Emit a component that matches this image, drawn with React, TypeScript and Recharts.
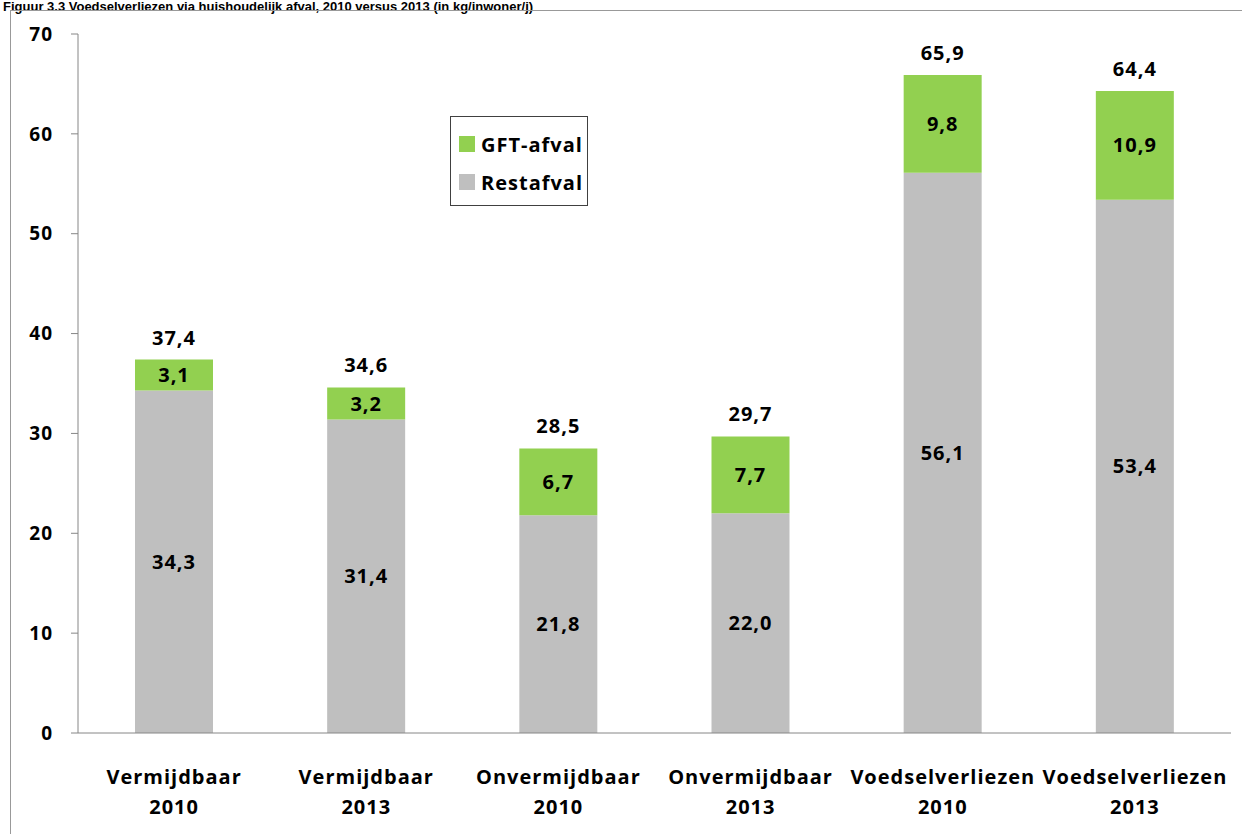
import React from 'react';
import { BarChart, Bar, XAxis, YAxis, LabelList, Legend } from 'recharts';

const catNames = ['Vermijdbaar', 'Vermijdbaar', 'Onvermijdbaar', 'Onvermijdbaar', 'Voedselverliezen', 'Voedselverliezen'];
const catYears = ['2010', '2013', '2010', '2013', '2010', '2013'];
const restafval = [34.3, 31.4, 21.8, 22.0, 56.1, 53.4];
const gftAfval = [3.1, 3.2, 6.7, 7.7, 9.8, 10.9];
const totals = [37.4, 34.6, 28.5, 29.7, 65.9, 64.4];
const yTicks = [0, 10, 20, 30, 40, 50, 60, 70];
const bandEdges = [0, 1, 2, 3, 4, 5, 6];
const legendOrder = ['GFT-afval', 'Restafval'];

const data = catNames.map((name, i) => ({
  cat: `${name}|${catYears[i]}`,
  rest: restafval[i],
  gft: gftAfval[i],
  total: totals[i],
}));

const FONT = '"Open Sans", Arial, sans-serif';
const AXIS = '#868686';
const GREEN = '#92D050';
const GREY = '#BFBFBF';

const comma = (v: any) => Number(v).toFixed(1).replace('.', ',');

const labelStyle = { fill: '#000', fontSize: 20, fontWeight: 700, fontFamily: FONT, letterSpacing: 1 };

const CatTick = (props: any) => {
  const { x, y, payload } = props;
  const [name, year] = String(payload.value).split('|');
  return (
    <text x={x} y={y} textAnchor="middle" fill="#000" fontSize={20} fontWeight={700} fontFamily={FONT} style={{ letterSpacing: 1 }}>
      <tspan x={x} dy={51}>{name}</tspan>
      <tspan x={x} dy={30}>{year}</tspan>
    </text>
  );
};

const LegendBox = (props: any) => {
  const items = [...(props.payload || [])].sort(
    (a: any, b: any) => legendOrder.indexOf(a.value) - legendOrder.indexOf(b.value)
  );
  return (
    <div
      style={{
        border: '1px solid #404040',
        background: '#fff',
        padding: '8px 0 4px 8px',
        width: 128,
        fontFamily: FONT,
        fontWeight: 700,
        fontSize: 20,
        letterSpacing: 1,
        color: '#000',
      }}
    >
      {items.map((it: any) => (
        <div key={it.value} style={{ display: 'flex', alignItems: 'center', height: 38 }}>
          <span style={{ width: 16, height: 16, background: it.color, marginRight: 6, display: 'inline-block' }} />
          <span>{it.value}</span>
        </div>
      ))}
    </div>
  );
};

export default function App() {
  return (
    <div style={{ position: 'fixed', left: 0, top: 0, width: 1242, height: 834, overflow: 'hidden', background: '#fff' }}>
      <div
        style={{
          position: 'absolute',
          left: 3,
          top: -1,
          whiteSpace: 'nowrap',
          fontFamily: '"Liberation Sans", Arial, sans-serif',
          fontWeight: 700,
          fontSize: 13,
        }}
      >
        Figuur 3.3 Voedselverliezen via huishoudelijk afval, 2010 versus 2013 (in kg/inwoner/j)
      </div>
      <div style={{ position: 'absolute', left: 10, top: 10, width: 1300, height: 900, border: '1px solid #999' }} />
      <div style={{ position: 'absolute', left: 0, top: 0 }}>
        <BarChart
          width={1242}
          height={834}
          data={data}
          margin={{ top: 34, right: 11, bottom: 0, left: 0 }}
          barSize={78}
        >
          <XAxis
            xAxisId="edges"
            type="number"
            domain={[0, 6]}
            ticks={bandEdges}
            interval={0}
            height={0}
            axisLine={false}
            tick={false}
            tickSize={8}
            tickLine={{ stroke: AXIS }}
          />
          <XAxis
            dataKey="cat"
            height={101}
            interval={0}
            tickLine={false}
            tickSize={0}
            tickMargin={0}
            axisLine={{ stroke: AXIS }}
            tick={<CatTick />}
          />
          <YAxis
            domain={[0, 70]}
            ticks={yTicks}
            interval={0}
            width={78}
            tickSize={7}
            tickMargin={18}
            axisLine={{ stroke: AXIS }}
            tickLine={{ stroke: AXIS }}
            tick={{ fill: '#000', fontSize: 19, fontWeight: 700, fontFamily: FONT, letterSpacing: 1 }}
          />
          <Legend
            layout="vertical"
            align="center"
            verticalAlign="middle"
            wrapperStyle={{ left: 450, top: 116, width: 138 }}
            content={<LegendBox />}
          />
          <Bar dataKey="rest" name="Restafval" stackId="a" fill={GREY} isAnimationActive={false}>
            <LabelList dataKey="rest" position="center" formatter={comma} style={labelStyle} />
          </Bar>
          <Bar dataKey="gft" name="GFT-afval" stackId="a" fill={GREEN} isAnimationActive={false}>
            <LabelList dataKey="gft" position="center" formatter={comma} style={labelStyle} />
            <LabelList dataKey="total" position="top" offset={15} formatter={comma} style={labelStyle} />
          </Bar>
        </BarChart>
      </div>
    </div>
  );
}
